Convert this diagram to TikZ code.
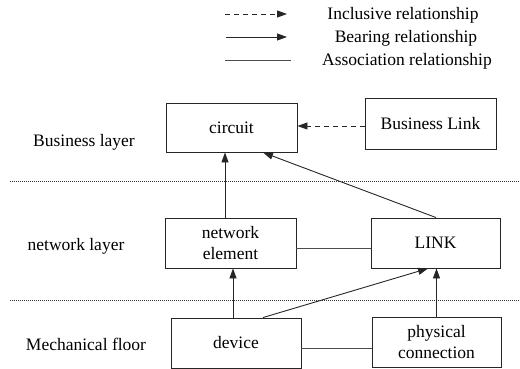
\documentclass[tikz,border=0pt]{standalone}
\usepackage{fontspec}
\setmainfont{Liberation Serif}
\usetikzlibrary{arrows.meta,calc}
\begin{document}
\begin{tikzpicture}[x=1pt,y=-1pt,
  every node/.style={font=\fontsize{17.5}{20.5}\selectfont, text=black},
  box/.style={draw=black!85, line width=0.9pt, minimum width=130pt, minimum height=50pt, inner sep=0pt, align=center},
  lbl/.style={inner sep=0pt},
  bear/.style={draw=black!85, line width=0.9pt, -{Triangle[length=10pt,width=7pt]}},
  incl/.style={draw=black!85, line width=0.9pt, dash pattern=on 5pt off 4pt, -{Triangle[length=10pt,width=7pt]}},
  assoc/.style={draw=black!70, line width=0.9pt},
  sep/.style={draw=black!80, line width=0.6pt, dash pattern=on 0.8pt off 1.2pt}
]
\useasboundingbox (0,0) rectangle (520,369);

% legend
\coordinate (l1a) at (225,14); \coordinate (l1b) at (287,14);
\coordinate (l2a) at (226,37); \coordinate (l2b) at (287,37);
\coordinate (l3a) at (225,60); \coordinate (l3b) at (291,60);
\draw[incl] (l1a) -- (l1b);
\draw[bear] (l2a) -- (l2b);
\draw[assoc] (l3a) -- (l3b);
\node[lbl] (t1) at (403,15) {Inclusive relationship};
\node[lbl] (t2) at (406,38) {Bearing relationship};
\node[lbl] (t3) at (407,61) {Association relationship};

% separators
\coordinate (s1a) at (10,181); \coordinate (s1b) at (520,181);
\coordinate (s2a) at (10,300); \coordinate (s2b) at (520,300);
\draw[sep] (s1a) -- (s1b);
\draw[sep] (s2a) -- (s2b);

% layer labels
\node[lbl] (L1) at (84,142) {Business layer};
\node[lbl] (L2) at (76,246) {network layer};
\node[lbl] (L3) at (86,344) {Mechanical floor};

% boxes
\node[box, minimum width=131pt, minimum height=49pt] (circ) at (231.5,127.5) {circuit};
\node[box, minimum width=131pt, minimum height=51pt] (bl) at (430.5,123.5) {Business Link};
\node[box, minimum width=131pt] (ne) at (230.5,243) {network\\element};
\node[box, minimum width=129pt] (link) at (435.5,243) {LINK};
\node[box] (dev) at (236,343) {device};
\node[box, minimum width=129pt] (phys) at (436.5,342) {physical\\connection};

% connectors
\draw[incl] ([yshift=-2.5pt]bl.west) -- ([yshift=-2.5pt]bl.west -| circ.east);
\draw[bear] ([xshift=-5.5pt]ne.north) -- ([xshift=-5.5pt]ne.north |- circ.south);
\draw[bear] ([xshift=0.5pt]link.north) -- ([xshift=31.5pt]circ.south);
\draw[assoc] ([yshift=-5pt]ne.east) -- ([yshift=-5pt]ne.east -| link.west);
\draw[bear] ([xshift=-3pt]dev.north) -- ([xshift=-3pt]dev.north |- ne.south);
\draw[bear] ([xshift=27pt]dev.north) -- ([xshift=-7.5pt]link.south);
\draw[bear] (phys.north) -- (phys.north |- link.south);
\draw[assoc] ([yshift=-5pt]dev.east) -- ([yshift=-5pt]dev.east -| phys.west);
\end{tikzpicture}
\end{document}
